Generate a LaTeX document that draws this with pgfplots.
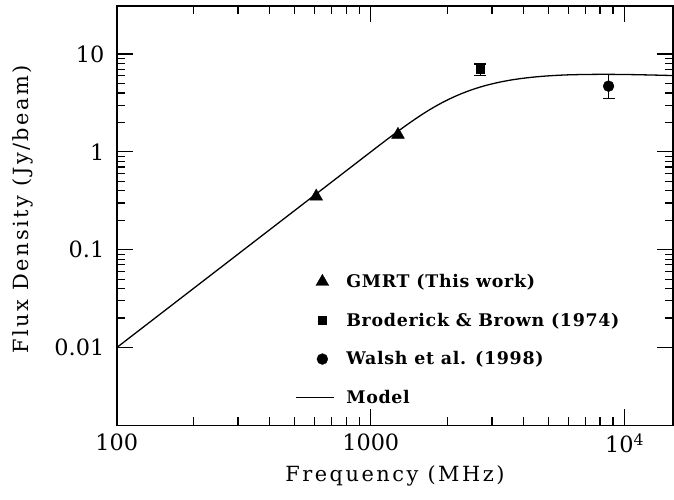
\documentclass[border=0pt]{standalone}
\usepackage{pgfplots}
\pgfplotsset{compat=1.18}
\usepackage{fontspec}
\setmainfont{DejaVu Serif}
\newfontfamily\lblfont[LetterSpace=12]{DejaVu Serif}
\newfontfamily\legfont[LetterSpace=4]{DejaVu Serif}
\begin{document}
\begin{tikzpicture}
\begin{axis}[
  xmode=log, ymode=log,
  scale only axis, width=557bp, height=420bp,
  xmin=100, xmax=15500, ymin=0.0016, ymax=31,
  xtick={100,1000,10000}, xticklabels={100,1000,10\textsuperscript{4}},
  ytick={0.01,0.1,1,10}, yticklabels={0.01,0.1,1,10},
  tick align=inside, xtick pos=both, ytick pos=both,
  xticklabel pos=lower, yticklabel pos=left,
  major tick length=16bp, minor tick length=8bp,
  axis line style={line width=1.6bp},
  every tick/.style={black, line width=1.2bp},
  tick label style={font=\fontsize{22.5}{26}\selectfont},
  xticklabel style={yshift=-5bp},
  yticklabel style={xshift=-9bp},
  xlabel={Frequency (MHz)}, ylabel={Flux Density (Jy/beam)},
  label style={font=\lblfont\fontsize{21}{24}\selectfont},
  x label style={at={(axis description cs:0.5,-0.12)}, anchor=center},
  y label style={at={(axis description cs:-0.169,0.515)}, anchor=center},
  legend style={draw=none, fill=none, at={(rel axis cs:0.316,0.37)}, anchor=north west,
    font=\legfont\bfseries\fontsize{17.5}{21}\selectfont, row sep=20bp},
  legend cell align=left,
  legend image code/.code={\path[draw=none] (0bp,0bp) (48bp,0bp);
    \draw[#1, only marks] plot coordinates {(26bp,0bp)};},
]
\addplot[only marks, mark=triangle*, mark size=7.5bp, mark options={fill=black, line width=0.3bp}]
  coordinates {(610,0.35) (1280,1.5)};
\addlegendentry{GMRT (This work)}
\addplot[only marks, mark=square*, mark size=4bp, mark options={fill=black, line width=0.3bp},
  error bars/.cd, y dir=both, y explicit,
  error mark options={rotate=90, mark size=6bp, line width=1.2bp},
  error bar style={line width=1.2bp}]
  coordinates {(2700,7.0) += (0,0.9) -= (0,1.0)};
\addlegendentry{Broderick \& Brown (1974)}
\addplot[only marks, mark=*, mark size=5.5bp, mark options={fill=black, line width=0.3bp},
  error bars/.cd, y dir=both, y explicit,
  error mark options={rotate=90, mark size=6bp, line width=1.2bp},
  error bar style={line width=1.2bp}]
  coordinates {(8640,4.7) += (0,1.45) -= (0,1.18)};
\addlegendentry{Walsh et al. (1998)}
\addplot[black, line width=1.3bp, smooth, mark=none,
  legend image code/.code={\path[draw=none] (0bp,0bp) (48bp,0bp); \draw[black, line width=1.3bp] (0bp,0bp) -- (38bp,0bp);}] coordinates {
  (100,0.0100) (158.5,0.02512) (251.2,0.0631) (398.1,0.1585) (631.0,0.3981)
  (1000,0.9997) (1122,1.2567) (1259,1.574) (1413,1.954) (1585,2.394)
  (1778,2.875) (1995,3.375) (2239,3.870) (2512,4.334) (2818,4.752)
  (3162,5.112) (3548,5.415) (3981,5.656) (4467,5.844) (5012,5.986)
  (5623,6.087) (6310,6.154) (7943,6.204) (10000,6.181) (12589,6.112) (15500,6.03)
};
\addlegendentry{Model}
\end{axis}
\pgfresetboundingbox
\path ([shift={(-117bp,-74bp)}]current axis.south west) rectangle ([shift={(1bp,6bp)}]current axis.north east);
\end{tikzpicture}
\end{document}
